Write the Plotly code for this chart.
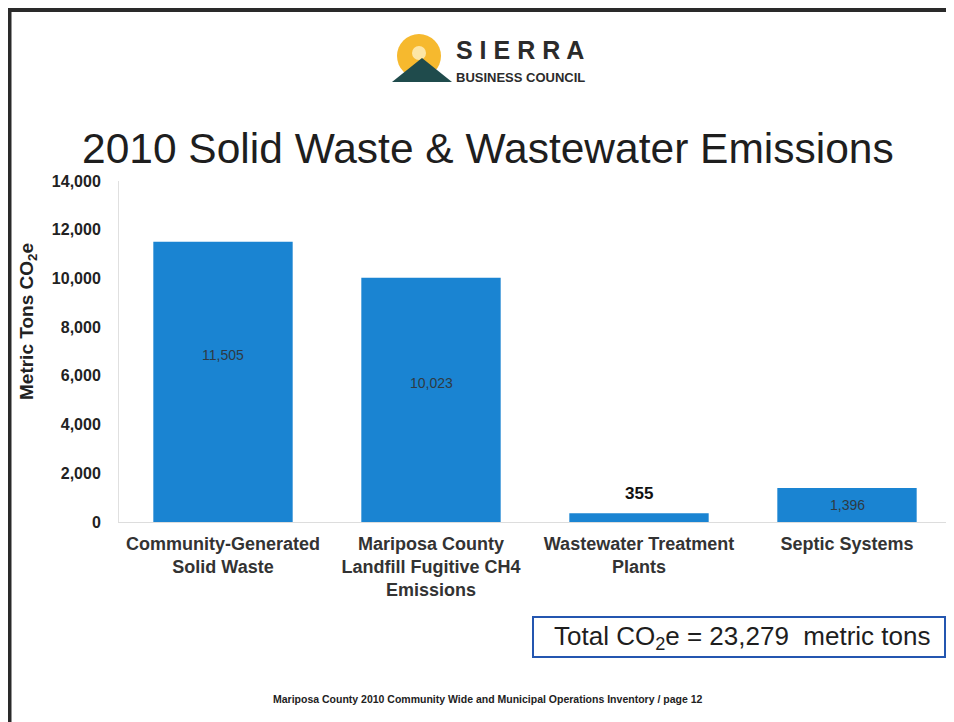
import plotly.graph_objects as go

categories = ["Community-Generated<br>Solid Waste",
              "Mariposa County<br>Landfill Fugitive CH4<br>Emissions",
              "Wastewater Treatment<br>Plants",
              "Septic Systems"]
values = [11505, 10023, 355, 1396]
value_labels = ["11,505", "10,023", "355", "1,396"]
y_ticks = [0, 2000, 4000, 6000, 8000, 10000, 12000, 14000]
y_tick_labels = ["0", "2,000", "4,000", "6,000", "8,000", "10,000", "12,000", "14,000"]

# page has an 8px body margin; work in page pixel coordinates
OFF = 8
W, H = 954 - OFF, 722 - OFF
PL, PR, PT, PB = 119, 951, 181, 522   # plot area in page pixels
L, R, T, B = PL - OFF, W - (PR - OFF), PT - OFF, H - (PB - OFF)
PW, PH = PR - PL, PB - PT

def px(x):
    return (x - PL) / PW

def py(y):
    return (PB - y) / PH

BAR = "#1a84d2"
FONT = "Liberation Sans, Arial, sans-serif"

fig = go.Figure()
fig.add_trace(go.Bar(x=categories, y=values, marker=dict(color=BAR, line=dict(width=0)),
                     hoverinfo="skip"))

def note(x, y, text, size, color, **kw):
    d = dict(x=px(x), y=py(y), xref="paper", yref="paper", text=text, showarrow=False,
             xanchor="center", yanchor="middle",
             font=dict(family=FONT, size=size, color=color))
    d.update(kw)
    return d

annotations = []
shifts = [27, 17, 0]
for i, idx in enumerate([0, 1, 3]):
    annotations.append(dict(x=categories[idx], y=values[idx] / 2, xref="x", yref="y",
                            text=value_labels[idx], showarrow=False, yshift=shifts[i],
                            xanchor="center", yanchor="middle",
                            font=dict(family=FONT, size=14, color="#2e3a44")))
annotations.append(dict(x=categories[2], y=values[2], xref="x", yref="y", yanchor="bottom",
                        xanchor="center",
                        text="<b>" + value_labels[2] + "</b>", showarrow=False, yshift=8,
                        font=dict(family=FONT, size=17, color="#111111")))
annotations.append(note(488, 148, "2010 Solid Waste &amp; Wastewater Emissions", 42.5, "#1e1e1e"))
annotations.append(note(28, 322, "<b>Metric Tons CO<sub>2</sub>e</b>", 19, "#222222",
                        textangle=-90))
annotations.append(note(742, 637, "Total CO<sub>2</sub>e = 23,279  metric tons", 26, "#1e1e1e"))
annotations.append(note(487, 699,
                        "<b>Mariposa County 2010 Community Wide and Municipal Operations Inventory / page 12</b>",
                        10.5, "#222222"))
annotations.append(note(520, 50, "<b>S I E R R A</b>", 25, "#2b2b2b"))
annotations.append(note(520, 77, "<b>BUSINESS COUNCIL</b>", 13, "#2b2b2b"))

shapes = [
    dict(type="line", xref="paper", yref="paper", x0=px(7), x1=px(960), y0=py(10), y1=py(10),
         line=dict(color="#2a2a2a", width=4)),
    dict(type="line", xref="paper", yref="paper", x0=px(9.5), x1=px(9.5), y0=py(8), y1=py(730),
         line=dict(color="#2a2a2a", width=4)),
    dict(type="rect", xref="paper", yref="paper", x0=px(533), x1=px(945), y0=py(617), y1=py(657),
         line=dict(color="#2456b0", width=2), fillcolor="white", layer="below"),
    dict(type="circle", xref="paper", yref="paper", x0=px(397), x1=px(441), y0=py(34), y1=py(78),
         line=dict(width=0), fillcolor="#f6b92e"),
    dict(type="circle", xref="paper", yref="paper", x0=px(412), x1=px(426), y0=py(46), y1=py(60),
         line=dict(width=0), fillcolor="#fde6a6"),
]
x0, x1, xa = px(392), px(452), px(422)
yb, ya = py(82), py(58)
shapes.append(dict(type="path", xref="paper", yref="paper",
                   path=f"M {x0},{yb} L {xa},{ya} L {x1},{yb} Z",
                   line=dict(width=0), fillcolor="#1f4b4c"))

fig.update_layout(
    width=W, height=H,
    margin=dict(l=L, r=R, t=T, b=B, pad=0),
    paper_bgcolor="white", plot_bgcolor="white",
    showlegend=False, bargap=0.33,
    font=dict(family=FONT),
    xaxis=dict(tickmode="array", tickvals=categories, ticktext=["<b>" + c + "</b>" for c in categories],
               tickfont=dict(family=FONT, size=18, color="#333333"), showline=True,
               linecolor="#dddddd", linewidth=1, ticks="", showgrid=False, zeroline=False,
               ticklabelstandoff=5),
    yaxis=dict(range=[0, 14000], tickmode="array", tickvals=y_ticks,
               ticktext=["<b>" + t + "</b>" for t in y_tick_labels],
               tickfont=dict(family=FONT, size=16, color="#222222"), showline=True,
               linecolor="#e0e0e0", linewidth=1, showgrid=False, zeroline=False,
               ticklabelstandoff=14, ticks=""),
    annotations=annotations, shapes=shapes,
)

fig.write_html("out.html")
